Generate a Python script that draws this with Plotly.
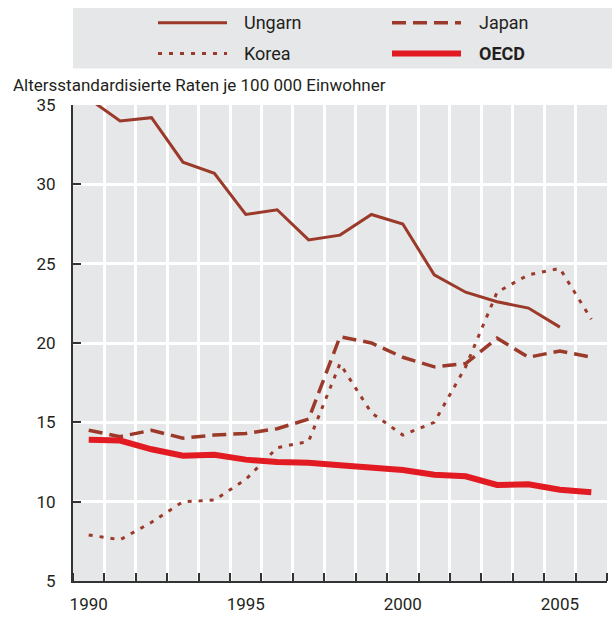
import plotly.graph_objects as go

YEARS = list(range(1990, 2007))

UNGARN = [35.4, 34.0, 34.2, 31.4, 30.7, 28.1, 28.4, 26.5, 26.8, 28.1, 27.5, 24.3, 23.2, 22.6, 22.2, 21.0, None]
JAPAN = [14.5, 14.1, 14.5, 14.0, 14.2, 14.3, 14.6, 15.2, 20.4, 20.0, 19.1, 18.5, 18.7, 20.3, 19.1, 19.5, 19.1]
KOREA = [7.9, 7.6, 8.7, 10.0, 10.1, 11.4, 13.4, 13.8, 18.7, 15.6, 14.2, 15.0, 18.5, 23.2, 24.3, 24.7, 21.5]
OECD = [13.9, 13.85, 13.3, 12.9, 12.95, 12.65, 12.5, 12.45, 12.3, 12.15, 12.0, 11.7, 11.6, 11.05, 11.1, 10.75, 10.6]

X_TICKS = [1990, 1995, 2000, 2005]
Y_TICKS = [5, 10, 15, 20, 25, 30, 35]

BROWN = "#9b3a2a"
RED = "#e21b22"
GREY = "#e6e7e8"
TEXT = "#231f20"
FONT = "Roboto, Liberation Sans, sans-serif"

W, H = 612, 619
L, R, T, B = 73, 5, 105, 33


def px_x(px):
    return (px - L) / (W - L - R)


def px_y(py):
    return (H - B - py) / (H - T - B)


series = [
    ("Ungarn", UNGARN, dict(color=BROWN, width=3)),
    ("Japan", JAPAN, dict(color=BROWN, width=3.5, dash="14px,7px")),
    ("Korea", KOREA, dict(color=BROWN, width=3, dash="4px,7px")),
    ("OECD", OECD, dict(color=RED, width=6)),
]

fig = go.Figure()
for name, vals, line in series:
    fig.add_trace(go.Scatter(x=YEARS, y=vals, mode="lines", name=name,
                             line=line, showlegend=False, connectgaps=False))

# hand-drawn legend box (two columns like the original)
shapes = [dict(type="rect", xref="paper", yref="paper",
               x0=px_x(73), x1=px_x(612), y0=px_y(68), y1=px_y(7),
               fillcolor=GREY, line=dict(width=0), layer="below")]
annotations = []
legend_pos = [(158, 22, 242), (392, 22, 477), (158, 53, 242), (392, 53, 477)]
for (lx, ly, tx), (name, _, line) in zip(legend_pos, series):
    shapes.append(dict(type="line", xref="paper", yref="paper",
                       x0=px_x(lx), x1=px_x(lx + 69), y0=px_y(ly), y1=px_y(ly),
                       line=dict(color=line["color"], width=line["width"],
                                 dash=line.get("dash", "solid"))))
    label = f"<b>{name}</b>" if name == "OECD" else name
    annotations.append(dict(xref="paper", yref="paper", x=px_x(tx), y=px_y(ly),
                            xanchor="left", yanchor="middle", text=label,
                            showarrow=False, font=dict(size=18, color=TEXT, family=FONT)))

annotations.append(dict(xref="paper", yref="paper", x=px_x(11), y=px_y(85),
                        xanchor="left", yanchor="middle",
                        text="Altersstandardisierte Raten je 100 000 Einwohner",
                        showarrow=False, font=dict(size=17, color=TEXT, family=FONT)))

fig.update_layout(
    width=W, height=H,
    margin=dict(l=L, r=R, t=T, b=B),
    paper_bgcolor="white",
    plot_bgcolor=GREY,
    font=dict(family=FONT, color=TEXT, size=17),
    shapes=shapes,
    annotations=annotations,
    showlegend=False,
)

fig.update_xaxes(
    range=[1989.5, 2006.5],
    tickvals=X_TICKS,
    ticks="",
    showgrid=False,
    showline=True, linecolor="#333333", linewidth=2,
    ticklabelstandoff=7,
    tickfont=dict(size=17),
    zeroline=False,
    minor=dict(tick0=1989.5, dtick=1, ticks="inside", ticklen=8, tickwidth=1.5,
               tickcolor="#333333", showgrid=True, gridcolor="white", gridwidth=3),
)

fig.update_yaxes(
    range=[5, 35],
    tickvals=Y_TICKS,
    ticks="inside", ticklen=8, tickwidth=1.5, tickcolor="#333333",
    showgrid=True, gridcolor="white", gridwidth=3,
    showline=True, linecolor="#333333", linewidth=2,
    ticklabelstandoff=12,
    tickfont=dict(size=17),
    zeroline=False,
)

fig.write_html("out.html", config={"displayModeBar": False},
               post_script="document.body.style.margin='0';")
